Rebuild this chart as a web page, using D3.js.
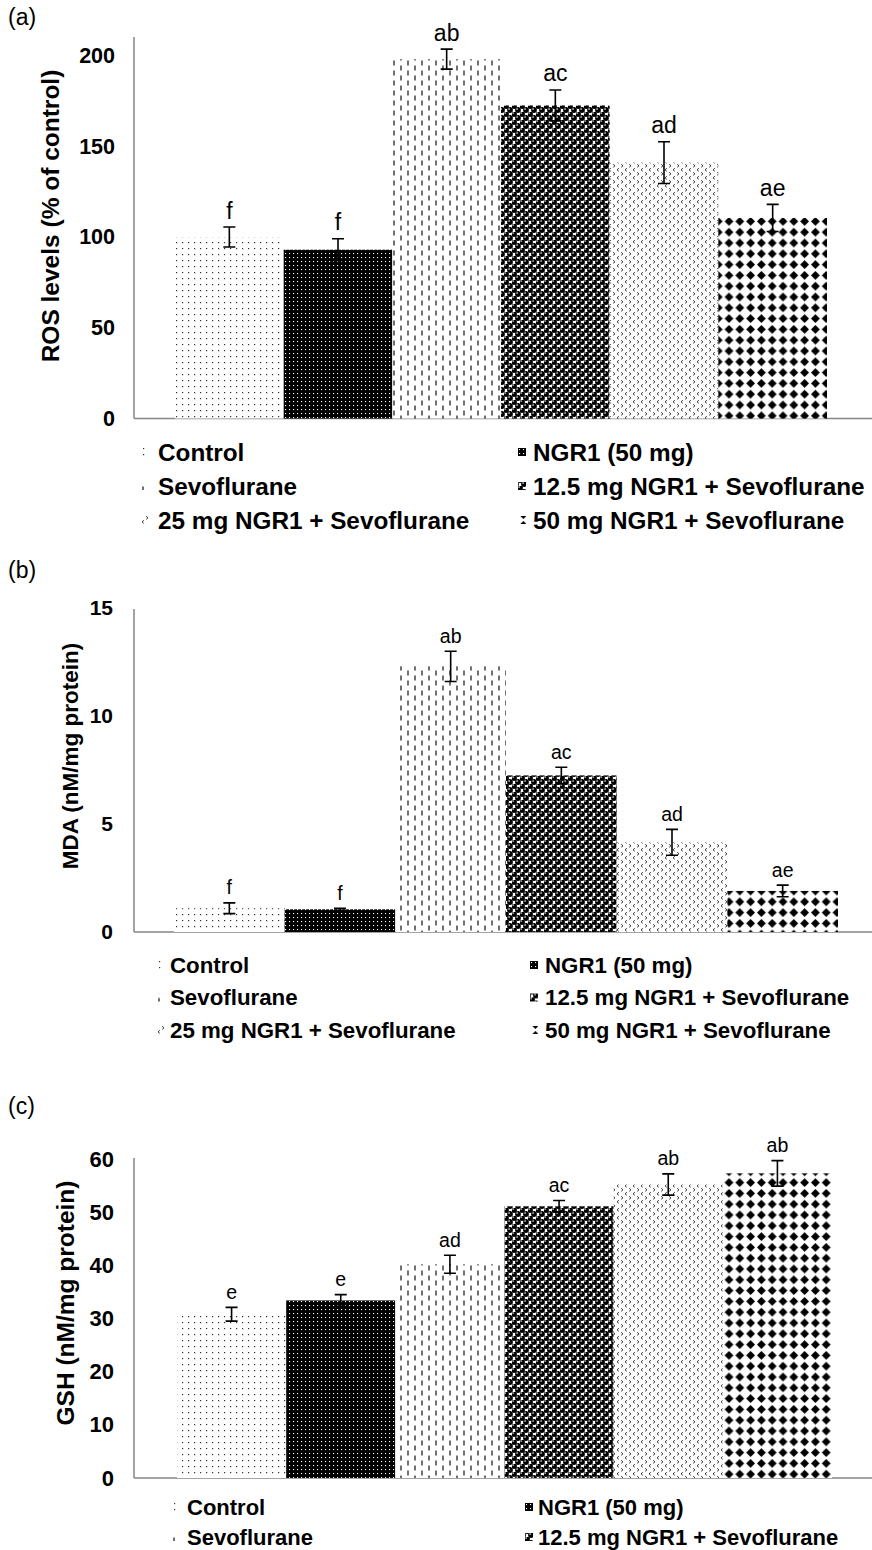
<!DOCTYPE html>
<html>
<head>
<meta charset="utf-8">
<script src="https://cdn.jsdelivr.net/npm/d3@7/dist/d3.min.js"></script>
<style>
	body { margin: 0; background: #fff; }
	svg { display: block; font-family: "Liberation Sans", Arial, sans-serif; }
</style>
</head>
<body>
<div id="chart"></div>
<script>

var groups = ['Control', 'NGR1 (50 mg)', 'Sevoflurane', '12.5 mg NGR1 + Sevoflurane', '25 mg NGR1 + Sevoflurane', '50 mg NGR1 + Sevoflurane'];

var rosMean = [100, 93, 198, 172.5, 141, 110.5];
var rosErr = [5.5, 6, 5.5, 8.5, 11.5, 7.5];
var rosLetters = ['f', 'f', 'ab', 'ac', 'ad', 'ae'];
var rosTicks = [0, 50, 100, 150, 200];

var mdaMean = [1.1, 1.05, 12.3, 7.25, 4.15, 1.9];
var mdaErr = [0.25, 0.05, 0.7, 0.38, 0.6, 0.27];
var mdaLetters = ['f', 'f', 'ab', 'ac', 'ad', 'ae'];
var mdaTicks = [0, 5, 10, 15];

var gshMean = [30.8, 33.4, 40.2, 51.1, 55.2, 57.3];
var gshErr = [1.3, 1.1, 1.7, 1.1, 2.0, 2.4];
var gshLetters = ['e', 'e', 'ad', 'ac', 'ab', 'ab'];
var gshTicks = [0, 10, 20, 30, 40, 50, 60];

var W = 872, H = 1550;
var svg = d3.select('#chart').append('svg').attr('width', W).attr('height', H);
var defs = svg.append('defs');

// fill patterns, one per group
function makePatterns() {
	var p;
	p = defs.append('pattern').attr('id', 'pat0').attr('patternUnits', 'userSpaceOnUse').attr('width', 6).attr('height', 6);
	p.append('rect').attr('width', 6).attr('height', 6).attr('fill', '#fff');
	p.append('rect').attr('x', 2).attr('y', 2).attr('width', 1.2).attr('height', 1.2).attr('fill', '#333');

	p = defs.append('pattern').attr('id', 'pat1').attr('patternUnits', 'userSpaceOnUse').attr('width', 4).attr('height', 4);
	p.append('rect').attr('width', 4).attr('height', 4).attr('fill', '#000');
	p.append('rect').attr('x', 1).attr('y', 1).attr('width', 1.1).attr('height', 1.1).attr('fill', '#fff');

	p = defs.append('pattern').attr('id', 'pat2').attr('patternUnits', 'userSpaceOnUse').attr('width', 14).attr('height', 10);
	p.append('rect').attr('width', 14).attr('height', 10).attr('fill', '#fff');
	p.append('path').attr('d', 'M2,0.5V5.5M9,5.5V10.5M9,-4.5V0.5').attr('stroke', '#111').attr('stroke-width', 1.2);

	p = defs.append('pattern').attr('id', 'pat3').attr('patternUnits', 'userSpaceOnUse').attr('width', 8).attr('height', 8);
	p.append('rect').attr('width', 8).attr('height', 8).attr('fill', '#fff');
	[[2, 2], [6, 6], [6, -2], [-2, 6], [10, 6], [6, 10], [-2, -2], [10, 10], [10, -2], [-2, 10]].forEach(function(c) {
		p.append('circle').attr('cx', c[0]).attr('cy', c[1]).attr('r', 2.9).attr('fill', '#000');
		p.append('circle').attr('cx', c[0] - 0.9).attr('cy', c[1] - 0.9).attr('r', 0.8).attr('fill', '#fff');
	});

	p = defs.append('pattern').attr('id', 'pat4').attr('patternUnits', 'userSpaceOnUse').attr('width', 8).attr('height', 8);
	p.append('rect').attr('width', 8).attr('height', 8).attr('fill', '#fff');
	p.append('path').attr('d', 'M2.8,0.3L1,1.8L2.8,3.3M5.2,4.3L7,5.8L5.2,7.3')
		.attr('stroke', '#333').attr('stroke-width', 1).attr('fill', 'none');

	p = defs.append('pattern').attr('id', 'pat5').attr('patternUnits', 'userSpaceOnUse').attr('width', 10.8).attr('height', 10.8);
	p.append('rect').attr('width', 10.8).attr('height', 10.8).attr('fill', '#fff');
	p.append('path').attr('d', 'M5.4,1L9.8,5.4L5.4,9.8L1,5.4Z').attr('fill', '#000');
}
makePatterns();

function drawPanel(c) {
	var g = svg.append('g');

	var x = d3.scaleBand().domain(groups).range([c.x0, c.x1]).padding(0);
	var y = d3.scaleLinear().domain([0, c.ticks[c.ticks.length - 1]]).range([c.yBottom, c.yTop]);

	g.append('text').attr('x', 8).attr('y', c.labelY).attr('font-size', 23).text(c.label);

	// axes lines (gray)
	g.append('line').attr('x1', 134).attr('x2', 134).attr('y1', c.axisTop).attr('y2', c.yBottom)
		.attr('stroke', '#868686').attr('stroke-width', 1.5);
	g.append('line').attr('x1', 134).attr('x2', W).attr('y1', c.yBottom).attr('y2', c.yBottom)
		.attr('stroke', '#868686').attr('stroke-width', 1.5);

	var yAxis = d3.axisLeft(y).tickValues(c.ticks).tickSize(0).tickPadding(c.tickPad).tickFormat(d3.format('d'));
	var ax = g.append('g').attr('transform', 'translate(134,0)').call(yAxis);
	ax.select('.domain').remove();
	ax.selectAll('text').attr('font-size', c.tickSize).attr('font-weight', 'bold')
		.attr('font-family', '"Liberation Sans", Arial, sans-serif').attr('fill', '#000');

	g.append('text')
		.attr('transform', 'translate(' + c.titleX + ',' + c.titleY + ') rotate(-90)')
		.attr('text-anchor', 'middle').attr('dy', '0.35em')
		.attr('font-size', c.titleSize).attr('font-weight', 'bold')
		.text(c.title);

	var bars = g.selectAll('.bar').data(groups).enter().append('g');

	bars.append('rect')
		.attr('x', function(d) { return x(d); })
		.attr('width', x.bandwidth())
		.attr('y', function(d, i) { return y(c.mean[i]); })
		.attr('height', function(d, i) { return y(0) - y(c.mean[i]); })
		.attr('fill', function(d, i) { return 'url(#pat' + i + ')'; });

	var cap = 6;
	bars.append('path')
		.attr('d', function(d, i) {
			var cx = x(d) + x.bandwidth() / 2;
			var t = y(c.mean[i] + c.err[i]), b = y(c.mean[i] - c.err[i]);
			return 'M' + (cx - cap) + ',' + t + 'H' + (cx + cap) + 'M' + cx + ',' + t + 'V' + b +
				'M' + (cx - cap) + ',' + b + 'H' + (cx + cap);
		})
		.attr('stroke', '#000').attr('stroke-width', 1.6).attr('fill', 'none');

	bars.append('text')
		.attr('x', function(d) { return x(d) + x.bandwidth() / 2; })
		.attr('y', function(d, i) { return y(c.mean[i] + c.err[i]) - 8.5; })
		.attr('text-anchor', 'middle')
		.attr('font-size', c.letterSize)
		.text(function(d, i) { return c.letters[i]; });

	// legend, two columns; rows that fall below the page are left out
	var items = groups.filter(function(d, i) { return c.legY + Math.floor(i / 2) * c.legStep < H; });
	var leg = g.selectAll('.legend').data(items).enter().append('g')
		.attr('transform', function(d, i) {
			var col = i % 2, row = Math.floor(i / 2);
			return 'translate(' + c.legCols[col] + ',' + (c.legY + row * c.legStep) + ')';
		});
	leg.append('rect').attr('x', 0).attr('y', -4).attr('width', 8).attr('height', 8)
		.attr('fill', function(d, i) { return 'url(#pat' + i + ')'; });
	leg.append('text').attr('x', function(d, i) { return c.legText[i % 2]; }).attr('dy', '0.35em')
		.attr('font-size', c.legSize).attr('font-weight', 'bold').text(function(d) { return d; });
}

drawPanel({
	label: '(a)', labelY: 25, title: 'ROS levels (% of control)', titleX: 50, titleY: 216, titleSize: 24.5,
	mean: rosMean, err: rosErr, letters: rosLetters, ticks: rosTicks,
	x0: 175, x1: 827, yBottom: 418.5, yTop: 55.5, axisTop: 37,
	tickPad: 19, tickSize: 21.5, letterSize: 23,
	legCols: [141, 518], legText: [17, 15], legY: 452, legStep: 34, legSize: 24.3
});

drawPanel({
	label: '(b)', labelY: 578, title: 'MDA (nM/mg protein)', titleX: 70, titleY: 756, titleSize: 22.5,
	mean: mdaMean, err: mdaErr, letters: mdaLetters, ticks: mdaTicks,
	x0: 174, x1: 838, yBottom: 932, yTop: 608, axisTop: 609,
	tickPad: 21, tickSize: 21, letterSize: 19.5,
	legCols: [157, 530], legText: [13, 15], legY: 965, legStep: 32.5, legSize: 22.3
});

drawPanel({
	label: '(c)', labelY: 1114, title: 'GSH (nM/mg protein)', titleX: 65, titleY: 1303, titleSize: 24.5,
	mean: gshMean, err: gshErr, letters: gshLetters, ticks: gshTicks,
	x0: 177, x1: 832, yBottom: 1478, yTop: 1159, axisTop: 1158,
	tickPad: 20, tickSize: 22, letterSize: 19.5,
	legCols: [172, 525], legText: [15, 13], legY: 1507, legStep: 30, legSize: 22
});

</script>
</body>
</html>
